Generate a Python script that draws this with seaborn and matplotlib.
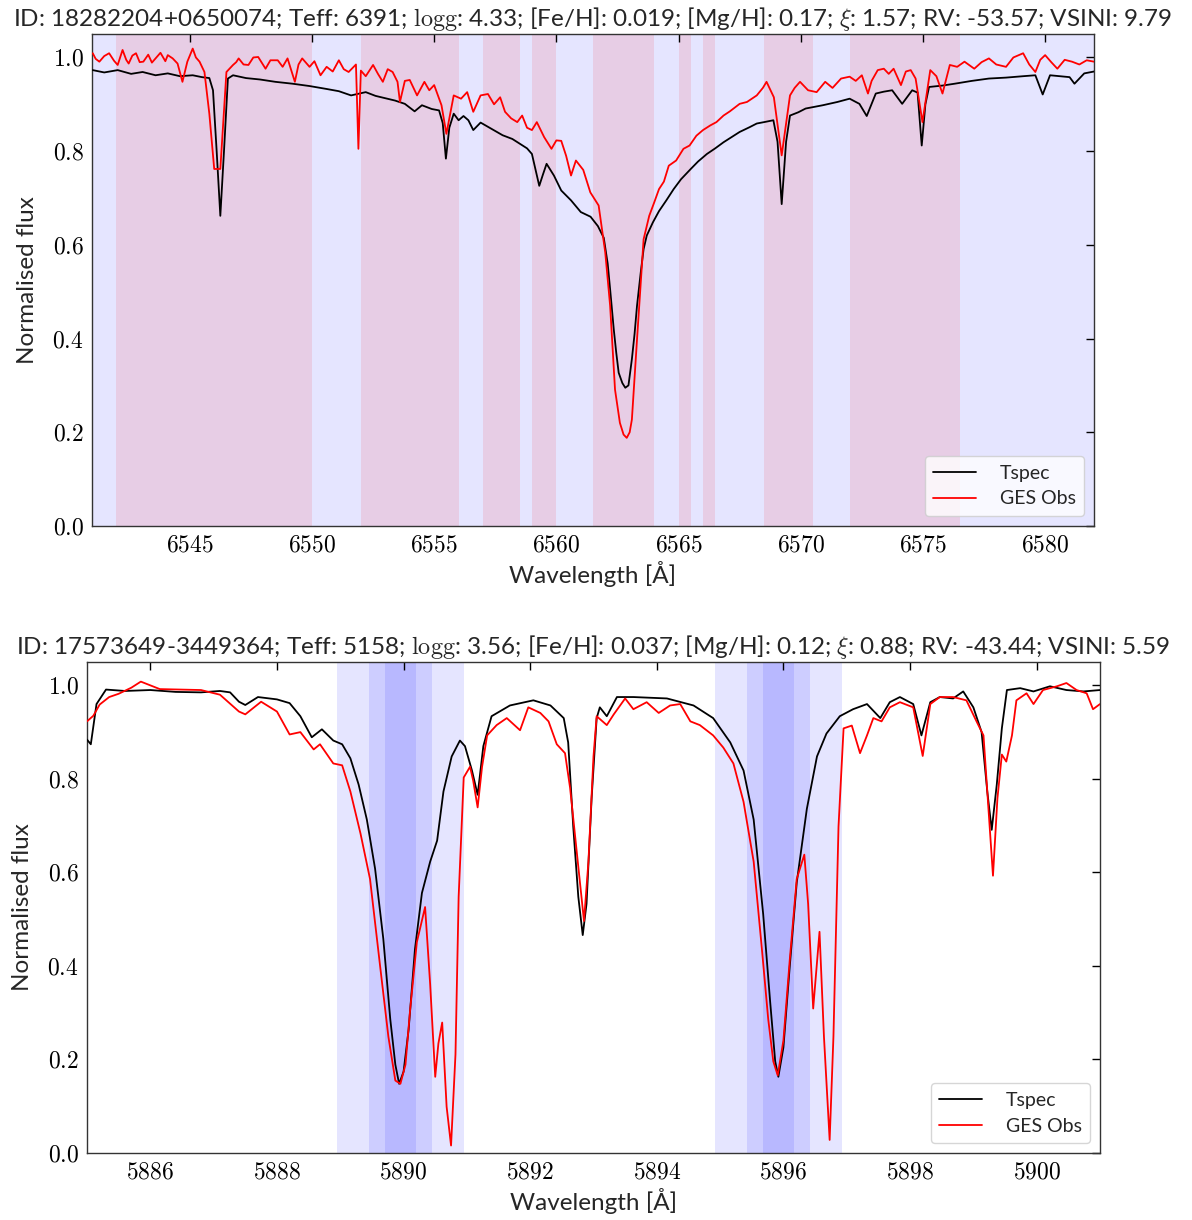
import numpy as np
import pandas as pd
import matplotlib
matplotlib.use("Agg")
import matplotlib.pyplot as plt
import seaborn as sns
from matplotlib.ticker import FuncFormatter, MultipleLocator

# ---------------- Titles ----------------
title_top = ("ID: 18282204+0650074; Teff: 6391; $\\mathrm{logg}$: 4.33; [Fe/H]: 0.019; "
             "[Mg/H]: 0.17; $\\xi$: 1.57; RV: -53.57; VSINI: 9.79")
title_bot = ("ID: 17573649-3449364; Teff: 5158; $\\mathrm{logg}$: 3.56; [Fe/H]: 0.037; "
             "[Mg/H]: 0.12; $\\xi$: 0.88; RV: -43.44; VSINI: 5.59")

# ---------------- Data: H-alpha panel ----------------
ha_wave_tspec = [6541.03, 6541.5, 6542.05, 6542.6, 6543.07, 6543.6, 6544.1, 6544.6, 6545.12,
                 6545.5, 6545.8, 6545.95, 6546.1, 6546.25, 6546.4, 6546.56, 6546.77, 6547.3,
                 6547.87, 6548.5, 6549.2, 6549.9, 6550.57, 6551.1, 6551.6, 6552.2, 6552.6,
                 6553.0, 6553.4, 6553.8, 6554.2, 6554.5, 6554.9, 6555.2, 6555.35, 6555.48,
                 6555.62, 6555.8, 6556.0, 6556.2, 6556.4, 6556.6, 6556.9, 6557.4, 6557.8,
                 6558.2, 6558.5, 6558.8, 6559.0, 6559.15, 6559.3, 6559.45, 6559.6, 6559.9,
                 6560.2, 6560.6, 6561.0, 6561.4, 6561.7, 6561.94, 6562.1, 6562.2, 6562.35,
                 6562.45, 6562.55, 6562.7, 6562.82, 6562.95, 6563.09, 6563.2, 6563.3, 6563.45,
                 6563.57, 6563.7, 6563.95, 6564.2, 6564.5, 6564.8, 6565.1, 6565.5, 6565.8,
                 6566.16, 6566.5, 6566.84, 6567.2, 6567.5, 6567.9, 6568.2, 6568.5, 6568.88,
                 6569.05, 6569.22, 6569.4, 6569.56, 6569.9, 6570.2, 6570.9, 6571.5, 6572.0,
                 6572.4, 6572.7, 6573.07, 6573.4, 6573.74, 6574.15, 6574.56, 6574.78, 6574.95,
                 6575.1, 6575.25, 6575.8, 6576.3, 6577.0, 6577.7, 6578.4, 6579.1, 6579.6,
                 6579.9, 6580.2, 6580.6, 6581.0, 6581.2, 6581.6, 6582.0]
ha_flux_tspec = [0.973, 0.968, 0.973, 0.965, 0.969, 0.962, 0.966, 0.960, 0.962,
                 0.958, 0.956, 0.930, 0.800, 0.662, 0.800, 0.955, 0.962, 0.956,
                 0.953, 0.948, 0.944, 0.939, 0.933, 0.928, 0.919, 0.926, 0.918,
                 0.913, 0.908, 0.901, 0.885, 0.898, 0.890, 0.887, 0.860, 0.784,
                 0.850, 0.880, 0.866, 0.875, 0.866, 0.845, 0.861, 0.846, 0.834,
                 0.826, 0.816, 0.806, 0.794, 0.760, 0.726, 0.750, 0.773, 0.748,
                 0.716, 0.695, 0.670, 0.660, 0.640, 0.615, 0.560, 0.505, 0.419,
                 0.370, 0.327, 0.305, 0.295, 0.300, 0.356, 0.410, 0.470, 0.540,
                 0.591, 0.620, 0.648, 0.672, 0.695, 0.719, 0.740, 0.762, 0.778,
                 0.794, 0.806, 0.819, 0.831, 0.841, 0.851, 0.859, 0.862, 0.866,
                 0.820, 0.687, 0.820, 0.876, 0.883, 0.891, 0.898, 0.905, 0.912,
                 0.901, 0.875, 0.923, 0.927, 0.930, 0.901, 0.930, 0.925, 0.812,
                 0.900, 0.937, 0.940, 0.944, 0.950, 0.955, 0.957, 0.960, 0.962,
                 0.921, 0.962, 0.960, 0.958, 0.944, 0.966, 0.970]

ha_wave_ges = [6541.03, 6541.15, 6541.3, 6541.5, 6541.7, 6541.9, 6542.05, 6542.25, 6542.4,
               6542.5, 6542.65, 6542.8, 6542.95, 6543.1, 6543.3, 6543.45, 6543.6, 6543.8,
               6544.0, 6544.1, 6544.3, 6544.5, 6544.7, 6544.9, 6545.12, 6545.25, 6545.4,
               6545.6, 6545.8, 6546.0, 6546.25, 6546.5, 6546.77, 6546.9, 6547.0, 6547.2,
               6547.4, 6547.6, 6547.8, 6548.1, 6548.3, 6548.6, 6548.8, 6549.0, 6549.3,
               6549.45, 6549.6, 6549.9, 6550.1, 6550.35, 6550.6, 6550.85, 6551.1, 6551.3,
               6551.5, 6551.8, 6551.9, 6552.0, 6552.2, 6552.5, 6552.7, 6552.9, 6553.1,
               6553.3, 6553.5, 6553.6, 6553.8, 6554.0, 6554.3, 6554.6, 6554.8, 6555.0,
               6555.3, 6555.5, 6555.8, 6556.1, 6556.35, 6556.6, 6556.9, 6557.2, 6557.45,
               6557.7, 6557.9, 6558.15, 6558.4, 6558.6, 6558.8, 6559.0, 6559.2, 6559.5,
               6559.8, 6560.0, 6560.2, 6560.4, 6560.6, 6560.8, 6561.1, 6561.39, 6561.73,
               6562.0, 6562.2, 6562.4, 6562.6, 6562.75, 6562.88, 6563.0, 6563.09, 6563.3,
               6563.57, 6563.8, 6564.0, 6564.2, 6564.4, 6564.6, 6564.9, 6565.2, 6565.45,
               6565.73, 6566.0, 6566.3, 6566.55, 6566.84, 6567.1, 6567.5, 6567.8, 6568.2,
               6568.45, 6568.6, 6568.9, 6569.22, 6569.56, 6569.75, 6569.97, 6570.3, 6570.65,
               6571.0, 6571.3, 6571.65, 6572.0, 6572.25, 6572.5, 6572.75, 6572.9, 6573.15,
               6573.4, 6573.6, 6573.8, 6574.1, 6574.3, 6574.5, 6574.7, 6574.98, 6575.3,
               6575.55, 6575.8, 6576.1, 6576.4, 6576.7, 6577.1, 6577.4, 6577.7, 6578.0,
               6578.4, 6578.7, 6579.1, 6579.35, 6579.6, 6579.8, 6580.0, 6580.25, 6580.5,
               6580.8, 6581.1, 6581.4, 6581.7, 6582.0]
ha_flux_ges = [1.009, 0.997, 0.991, 1.003, 1.009, 0.993, 0.984, 1.016, 0.995,
               0.987, 1.004, 1.009, 0.990, 0.991, 1.006, 0.989, 0.998, 1.010,
               0.992, 1.005, 0.998, 0.987, 0.948, 0.991, 1.019, 1.000, 0.991,
               0.969, 0.880, 0.762, 0.762, 0.969, 0.984, 0.990, 0.998, 0.985,
               0.984, 1.000, 1.001, 0.976, 0.994, 0.994, 0.980, 0.998, 0.948,
               0.985, 0.998, 0.980, 0.992, 0.962, 0.980, 0.970, 0.994, 0.975,
               0.969, 0.985, 0.805, 0.972, 0.960, 0.984, 0.965, 0.948, 0.975,
               0.969, 0.948, 0.905, 0.950, 0.952, 0.919, 0.948, 0.930, 0.941,
               0.898, 0.837, 0.919, 0.912, 0.926, 0.884, 0.919, 0.922, 0.900,
               0.915, 0.884, 0.870, 0.862, 0.876, 0.850, 0.845, 0.862, 0.830,
               0.805, 0.823, 0.822, 0.790, 0.748, 0.780, 0.760, 0.712, 0.684,
               0.584, 0.470, 0.291, 0.220, 0.195, 0.188, 0.200, 0.227, 0.398,
               0.612, 0.662, 0.690, 0.719, 0.735, 0.769, 0.780, 0.805, 0.812,
               0.833, 0.845, 0.855, 0.862, 0.876, 0.885, 0.901, 0.905, 0.919,
               0.935, 0.948, 0.915, 0.791, 0.919, 0.935, 0.948, 0.930, 0.926,
               0.948, 0.935, 0.955, 0.959, 0.950, 0.962, 0.923, 0.950, 0.973,
               0.976, 0.965, 0.976, 0.941, 0.970, 0.973, 0.955, 0.862, 0.973,
               0.960, 0.923, 0.984, 0.980, 0.991, 0.976, 0.990, 0.998, 0.985,
               0.980, 1.000, 1.009, 0.985, 0.969, 0.995, 1.005, 0.990, 0.976,
               0.995, 0.991, 0.985, 0.994, 0.991]

# pink "masked" windows (Angstrom)
ha_band_lo = [6542.0, 6552.0, 6557.0, 6559.0, 6561.5, 6565.0, 6566.0, 6568.5, 6572.0]
ha_band_hi = [6550.0, 6556.0, 6558.5, 6560.0, 6564.0, 6565.5, 6566.5, 6570.5, 6576.5]

# ---------------- Data: Na D panel ----------------
na_wave_tspec = [5885.0, 5885.06, 5885.15, 5885.3, 5885.6, 5886.0, 5886.4, 5886.8, 5887.1,
                 5887.26, 5887.4, 5887.5, 5887.7, 5888.0, 5888.2, 5888.37, 5888.55, 5888.71,
                 5888.89, 5889.03, 5889.16, 5889.29, 5889.42, 5889.55, 5889.68, 5889.79, 5889.87,
                 5889.93, 5890.0, 5890.08, 5890.18, 5890.29, 5890.42, 5890.53, 5890.63, 5890.76,
                 5890.89, 5890.97, 5891.08, 5891.17, 5891.26, 5891.39, 5891.68, 5892.05, 5892.32,
                 5892.53, 5892.6, 5892.68, 5892.76, 5892.83, 5892.89, 5892.97, 5893.05, 5893.1,
                 5893.21, 5893.37, 5893.63, 5894.16, 5894.58, 5894.89, 5895.16, 5895.37, 5895.53,
                 5895.68, 5895.79, 5895.87, 5895.92, 5896.0, 5896.1, 5896.21, 5896.37, 5896.53,
                 5896.68, 5896.89, 5897.1, 5897.32, 5897.53, 5897.68, 5897.84, 5898.05, 5898.18,
                 5898.32, 5898.47, 5898.68, 5898.84, 5899.0, 5899.13, 5899.22, 5899.29, 5899.37,
                 5899.45, 5899.53, 5899.74, 5899.95, 5900.21, 5900.47, 5900.74, 5901.0]
na_flux_tspec = [0.884, 0.874, 0.960, 0.991, 0.988, 0.990, 0.986, 0.985, 0.988,
                 0.985, 0.965, 0.958, 0.975, 0.970, 0.962, 0.934, 0.889, 0.906,
                 0.882, 0.874, 0.844, 0.788, 0.713, 0.608, 0.458, 0.286, 0.189,
                 0.148, 0.174, 0.264, 0.436, 0.556, 0.623, 0.668, 0.773, 0.848,
                 0.882, 0.870, 0.818, 0.766, 0.870, 0.934, 0.957, 0.968, 0.957,
                 0.930, 0.878, 0.698, 0.548, 0.466, 0.533, 0.758, 0.930, 0.953,
                 0.934, 0.975, 0.975, 0.972, 0.957, 0.930, 0.878, 0.818, 0.713,
                 0.511, 0.324, 0.196, 0.163, 0.226, 0.399, 0.578, 0.736, 0.848,
                 0.897, 0.934, 0.949, 0.960, 0.930, 0.964, 0.975, 0.960, 0.893,
                 0.964, 0.975, 0.972, 0.987, 0.953, 0.900, 0.773, 0.691, 0.788,
                 0.908, 0.990, 0.994, 0.987, 0.998, 0.990, 0.987, 0.990]

na_wave_ges = [5885.0, 5885.1, 5885.2, 5885.35, 5885.5, 5885.7, 5885.85, 5886.15, 5886.8,
               5887.1, 5887.4, 5887.5, 5887.75, 5888.0, 5888.2, 5888.37, 5888.58, 5888.68,
               5888.89, 5889.03, 5889.16, 5889.32, 5889.47, 5889.63, 5889.76, 5889.87, 5889.95,
               5890.03, 5890.1, 5890.21, 5890.34, 5890.42, 5890.5, 5890.55, 5890.61, 5890.68,
               5890.75, 5890.82, 5890.87, 5890.95, 5891.05, 5891.1, 5891.17, 5891.24, 5891.32,
               5891.47, 5891.63, 5891.84, 5891.97, 5892.16, 5892.29, 5892.42, 5892.55, 5892.63,
               5892.74, 5892.85, 5892.92, 5893.0, 5893.05, 5893.21, 5893.32, 5893.5, 5893.63,
               5893.84, 5894.03, 5894.21, 5894.37, 5894.53, 5894.68, 5894.89, 5895.05, 5895.21,
               5895.37, 5895.53, 5895.66, 5895.76, 5895.84, 5895.91, 5896.0, 5896.1, 5896.21,
               5896.33, 5896.39, 5896.47, 5896.57, 5896.64, 5896.73, 5896.79, 5896.87, 5896.95,
               5897.08, 5897.21, 5897.32, 5897.42, 5897.55, 5897.68, 5897.84, 5898.05, 5898.2,
               5898.32, 5898.47, 5898.68, 5898.89, 5899.05, 5899.16, 5899.22, 5899.31, 5899.38,
               5899.45, 5899.52, 5899.61, 5899.68, 5899.84, 5899.95, 5900.1, 5900.32, 5900.47,
               5900.63, 5900.79, 5900.89, 5901.0]
na_flux_ges = [0.923, 0.935, 0.959, 0.975, 0.982, 0.995, 1.008, 0.992, 0.990,
               0.980, 0.944, 0.938, 0.965, 0.944, 0.895, 0.900, 0.863, 0.874,
               0.833, 0.829, 0.773, 0.683, 0.586, 0.399, 0.249, 0.155, 0.148,
               0.189, 0.301, 0.451, 0.526, 0.361, 0.163, 0.234, 0.279, 0.099,
               0.016, 0.211, 0.548, 0.803, 0.826, 0.796, 0.739, 0.826, 0.893,
               0.915, 0.930, 0.904, 0.953, 0.941, 0.923, 0.874, 0.855, 0.781,
               0.638, 0.496, 0.623, 0.848, 0.934, 0.915, 0.938, 0.972, 0.949,
               0.964, 0.941, 0.957, 0.960, 0.923, 0.915, 0.893, 0.867, 0.833,
               0.751, 0.623, 0.436, 0.286, 0.196, 0.166, 0.241, 0.413, 0.586,
               0.638, 0.533, 0.309, 0.473, 0.249, 0.028, 0.249, 0.698, 0.908,
               0.914, 0.855, 0.893, 0.930, 0.923, 0.953, 0.964, 0.953, 0.849,
               0.960, 0.975, 0.975, 0.968, 0.923, 0.893, 0.773, 0.593, 0.758,
               0.852, 0.837, 0.893, 0.968, 0.983, 0.960, 0.990, 0.998, 1.005,
               0.990, 0.983, 0.949, 0.960]

na_centres = [5889.95, 5895.92]
na_half_widths = [1.0, 0.5, 0.25]

series_names = ["Tspec", "GES Obs"]
series_colors = ["black", "red"]

# ---------------- Styling ----------------
sns.set_theme(style="white")
plt.rcParams["font.family"] = ["Lato", "DejaVu Sans"]
plt.rcParams["mathtext.fontset"] = "cm"

fig = plt.figure(figsize=(11.92, 12.2), dpi=100)
ax1 = fig.add_axes([0.0772, 0.5689, 0.8406, 0.4032])
ax2 = fig.add_axes([0.0730, 0.0549, 0.8498, 0.4025])

palette = dict(zip(series_names, series_colors))


def make_df(w1, f1, w2, f2):
    d1 = pd.DataFrame({"wave": w1, "flux": f1, "src": series_names[0]})
    d2 = pd.DataFrame({"wave": w2, "flux": f2, "src": series_names[1]})
    return pd.concat([d1, d2], ignore_index=True)


def style_axis(ax, xlim, xstep, title):
    ax.set_xlim(*xlim)
    ax.set_ylim(0, 1.05)
    ax.xaxis.set_major_locator(MultipleLocator(xstep))
    ax.yaxis.set_major_locator(MultipleLocator(0.2))
    ax.xaxis.set_major_formatter(FuncFormatter(lambda v, p: "$%d$" % round(v)))
    ax.yaxis.set_major_formatter(FuncFormatter(lambda v, p: "$%.1f$" % v))
    ax.tick_params(direction="in", top=True, right=True, length=6, width=1,
                   labelsize=17, colors="black", pad=6)
    for s in ax.spines.values():
        s.set_color("#333333")
        s.set_linewidth(1.0)
    ax.set_xlabel("Wavelength [Å]", fontsize=17.5, labelpad=4)
    ax.set_ylabel("Normalised flux", fontsize=17.5, labelpad=10)
    ax.set_title(title, fontsize=17.5, pad=6)
    leg = ax.legend(loc="lower right", fontsize=14, handlelength=2.2,
                    borderpad=0.45, labelspacing=0.45, handletextpad=1.2,
                    borderaxespad=0.5)
    leg.get_frame().set_edgecolor("#cccccc")


# Top panel
ax1.axvspan(6541.0, 6582.0, color="blue", alpha=0.1, lw=0, zorder=0)
for lo, hi in zip(ha_band_lo, ha_band_hi):
    ax1.axvspan(lo, hi, color="red", alpha=0.1, lw=0, zorder=0)
df1 = make_df(ha_wave_tspec, ha_flux_tspec, ha_wave_ges, ha_flux_ges)
sns.lineplot(data=df1, x="wave", y="flux", hue="src", palette=palette,
             estimator=None, sort=False, lw=1.3, ax=ax1, zorder=3)
style_axis(ax1, (6541.0, 6582.0), 5, title_top)

# Bottom panel
for c in na_centres:
    for hw in na_half_widths:
        ax2.axvspan(c - hw, c + hw, color="blue", alpha=0.1, lw=0, zorder=0)
df2 = make_df(na_wave_tspec, na_flux_tspec, na_wave_ges, na_flux_ges)
sns.lineplot(data=df2, x="wave", y="flux", hue="src", palette=palette,
             estimator=None, sort=False, lw=1.3, ax=ax2, zorder=3)
style_axis(ax2, (5885.0, 5901.0), 2, title_bot)

fig.savefig("out.png", dpi=100)
